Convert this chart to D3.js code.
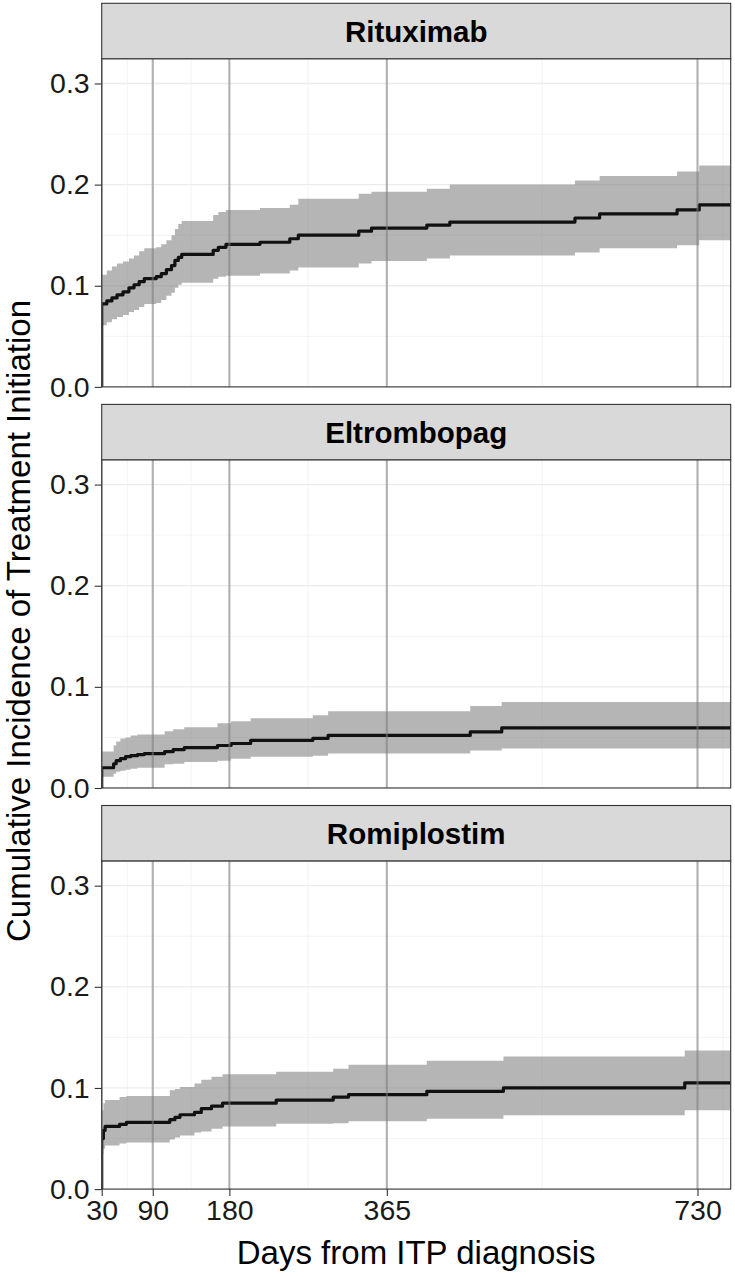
<!DOCTYPE html>
<html><head><meta charset="utf-8">
<script src="https://cdn.jsdelivr.net/npm/d3@7"></script>
<style>body{margin:0;background:#fff} svg{display:block}</style>
</head><body><svg id="c" width="735" height="1277"></svg>
<script>
const panels = ["Rituximab","Eltrombopag","Romiplostim"];
const xBreaks = [30,90,180,365,730];
const xMinor = [60,135,272.5,547.5,760];
const yBreaks = [0.0,0.1,0.2,0.3];
const yMinor = [0.05,0.15,0.25];
const yTickLabels = ["0.0","0.1","0.2","0.3"];
const xTitle = "Days from ITP diagnosis";
const yTitle = "Cumulative Incidence of Treatment Initiation";

const ritTime = [0,30,36,42,48,55,62,68,74,80,94,100,106,112,116,120,124,161,167,176,216,251,261,332,347,412,439,586,615,706,732];
const ritEst  = [0,0.082,0.085,0.088,0.091,0.094,0.098,0.101,0.104,0.107,0.109,0.112,0.116,0.120,0.125,0.128,0.131,0.135,0.138,0.141,0.143,0.1465,0.150,0.154,0.157,0.160,0.163,0.167,0.171,0.175,0.180];
const ritLo   = [0,0.061,0.064,0.067,0.069,0.071,0.074,0.076,0.079,0.082,0.083,0.086,0.090,0.093,0.098,0.101,0.103,0.107,0.109,0.110,0.112,0.115,0.118,0.122,0.1245,0.127,0.130,0.133,0.137,0.140,0.145];
const ritHi   = [0,0.111,0.115,0.119,0.122,0.124,0.127,0.130,0.134,0.137,0.138,0.141,0.145,0.150,0.156,0.161,0.164,0.170,0.173,0.175,0.177,0.180,0.186,0.191,0.193,0.196,0.200,0.204,0.2085,0.213,0.219];

const eltTime = [0,30,44,47,52,58,64,72,80,104,114,127,166,182,205,278,296,463,500];
const eltEst  = [0,0.020,0.024,0.027,0.029,0.031,0.032,0.033,0.034,0.036,0.038,0.040,0.042,0.044,0.047,0.049,0.052,0.0554,0.0594];
const eltLo   = [0,0.011,0.014,0.016,0.017,0.018,0.019,0.020,0.020,0.0235,0.024,0.0257,0.027,0.029,0.031,0.032,0.034,0.037,0.039];
const eltHi   = [0,0.036,0.042,0.046,0.049,0.050,0.052,0.053,0.053,0.056,0.058,0.060,0.064,0.066,0.069,0.072,0.076,0.081,0.085];

const romTime = [0,30,32,34,51,59,110,116,122,139,147,159,172,235,302,320,412,502,715];
const romEst  = [0,0.050,0.058,0.062,0.064,0.066,0.0686,0.071,0.0735,0.0758,0.0795,0.082,0.085,0.088,0.091,0.0934,0.0967,0.100,0.105];
const romLo   = [0,0.035,0.040,0.043,0.045,0.046,0.049,0.051,0.053,0.056,0.057,0.0596,0.062,0.0645,0.065,0.067,0.0696,0.073,0.078];
const romHi   = [0,0.078,0.085,0.088,0.091,0.092,0.0977,0.099,0.101,0.1044,0.108,0.111,0.1136,0.116,0.119,0.123,0.127,0.131,0.137];

const series = [
  {time: ritTime, est: ritEst, lo: ritLo, hi: ritHi},
  {time: eltTime, est: eltEst, lo: eltLo, hi: eltHi},
  {time: romTime, est: romEst, lo: romLo, hi: romHi}
];

const FONT = "'Liberation Sans', Arial, Helvetica, sans-serif";
const xDomain = [30, 769];
const yDomain = [0, 0.3243];
const left = 101.7, right = 730.7;
const top0 = 3.3, stripH = 55.6, plotH = 328, gap = 17.5;

const svg = d3.select("#c");
svg.append("rect").attr("width",735).attr("height",1277).attr("fill","#fff");

const x = d3.scaleLinear().domain(xDomain).range([left, right]);

panels.forEach((name, i) => {
  const sTop = top0 + i*(stripH + plotH + gap);
  const pTop = sTop + stripH;
  const pBot = pTop + plotH;
  const y = d3.scaleLinear().domain(yDomain).range([pBot, pTop]);
  const g = svg.append("g");

  // strip
  g.append("rect").attr("x", left).attr("y", sTop).attr("width", right-left).attr("height", stripH)
    .attr("fill","#d9d9d9").attr("stroke","#333").attr("stroke-width",1.1);
  g.append("text").attr("x",(left+right)/2).attr("y", sTop + stripH/2 + 10.6)
    .attr("text-anchor","middle").attr("font-family",FONT).attr("font-weight","bold")
    .attr("font-size",29.5).attr("fill","#000").text(name);

  // panel bg
  g.append("rect").attr("x",left).attr("y",pTop).attr("width",right-left).attr("height",plotH).attr("fill","#fff");

  const clipId = "clip"+i;
  svg.append("clipPath").attr("id",clipId).append("rect")
    .attr("x",left).attr("y",pTop).attr("width",right-left).attr("height",plotH);
  const pg = g.append("g").attr("clip-path",`url(#${clipId})`);

  // minor grid
  pg.selectAll(".ymin").data(yMinor).enter().append("line")
    .attr("x1",left).attr("x2",right).attr("y1",d=>y(d)).attr("y2",d=>y(d))
    .attr("stroke","#ebebeb").attr("stroke-width",0.6);
  pg.selectAll(".xmin").data(xMinor).enter().append("line")
    .attr("y1",pTop).attr("y2",pBot).attr("x1",d=>x(d)).attr("x2",d=>x(d))
    .attr("stroke","#ebebeb").attr("stroke-width",0.6);
  // major grid
  pg.selectAll(".ymaj").data(yBreaks).enter().append("line")
    .attr("x1",left).attr("x2",right).attr("y1",d=>y(d)).attr("y2",d=>y(d))
    .attr("stroke","#ebebeb").attr("stroke-width",1.3);
  pg.selectAll(".xmaj").data(xBreaks).enter().append("line")
    .attr("y1",pTop).attr("y2",pBot).attr("x1",d=>x(d)).attr("x2",d=>x(d))
    .attr("stroke","#ebebeb").attr("stroke-width",1.3);

  // data
  const s = series[i];
  const pts = s.time.map((t,k)=>({t, e:s.est[k], lo:s.lo[k], hi:s.hi[k]}));
  const last = pts[pts.length-1];
  pts.push({t: xDomain[1], e:last.e, lo:last.lo, hi:last.hi});

  const area = d3.area().curve(d3.curveStepAfter)
    .x(d=>x(d.t)).y0(d=>y(d.lo)).y1(d=>y(d.hi));
  pg.append("path").datum(pts).attr("d",area).attr("fill","#7f7f7f").attr("fill-opacity",0.58);

  const line = d3.line().curve(d3.curveStepAfter).x(d=>x(d.t)).y(d=>y(d.e));
  pg.append("path").datum(pts).attr("d",line).attr("fill","none")
    .attr("stroke","#111").attr("stroke-width",3.2).attr("stroke-linejoin","round");

  // vlines
  pg.selectAll(".vl").data(xBreaks).enter().append("line")
    .attr("y1",pTop).attr("y2",pBot).attr("x1",d=>x(d)).attr("x2",d=>x(d))
    .attr("stroke","#7f7f7f").attr("stroke-opacity",0.55).attr("stroke-width",2.2);

  // border
  g.append("rect").attr("x",left).attr("y",pTop).attr("width",right-left).attr("height",plotH)
    .attr("fill","none").attr("stroke","#333").attr("stroke-width",1.1);

  // y axis
  const yAxis = d3.axisLeft(y).tickValues(yBreaks).tickFormat((d,k)=>yTickLabels[k]).tickSize(7).tickPadding(5);
  const ya = g.append("g").attr("transform",`translate(${left},0)`).call(yAxis);
  ya.select(".domain").remove();
  ya.selectAll("line").attr("stroke","#333").attr("stroke-width",1.1);
  ya.selectAll("text").attr("font-family",FONT).attr("font-size",28.5).attr("fill","#1a1a1a");

  if (i === panels.length-1) {
    const xAxis = d3.axisBottom(x).tickValues(xBreaks).tickFormat(d3.format("d")).tickSize(7).tickPadding(4);
    const xa = g.append("g").attr("transform",`translate(0,${pBot})`).call(xAxis);
    xa.select(".domain").remove();
    xa.selectAll("line").attr("stroke","#333").attr("stroke-width",1.1);
    xa.selectAll("text").attr("font-family",FONT).attr("font-size",28.5).attr("fill","#1a1a1a");
  }
});

svg.append("text").attr("x",(left+right)/2).attr("y",1264).attr("text-anchor","middle")
  .attr("font-family",FONT).attr("font-size",33).attr("fill","#000").text(xTitle);
svg.append("text").attr("transform","translate(30,621) rotate(-90)").attr("text-anchor","middle")
  .attr("font-family",FONT).attr("font-size",33).attr("fill","#000").text(yTitle);
</script></body></html>
